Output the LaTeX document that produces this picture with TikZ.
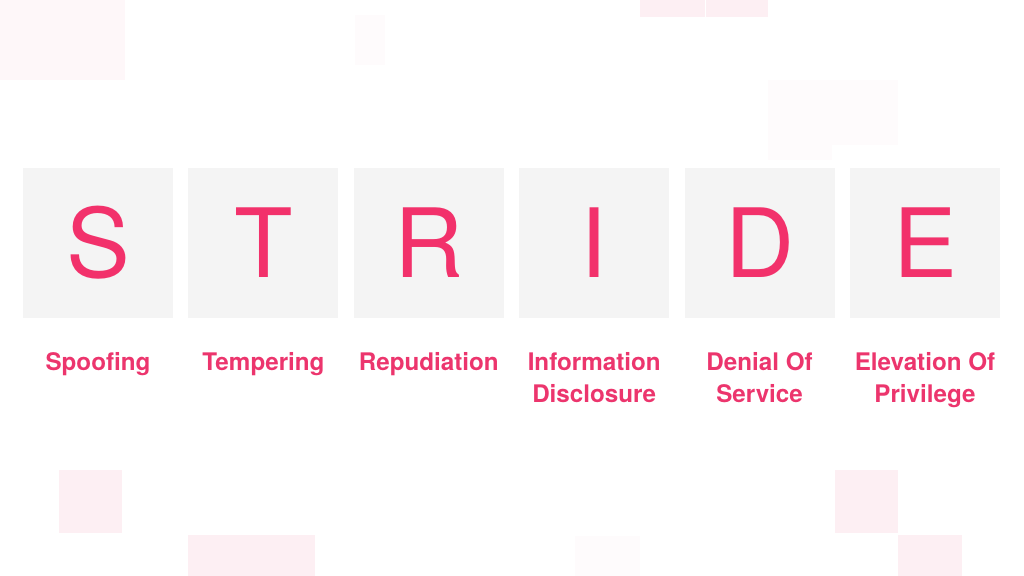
\documentclass[tikz,border=0pt]{standalone}
\usepackage{fontspec}
\setmainfont{TeX Gyre Heros}
\usepackage{xcolor}
\usetikzlibrary{positioning}
\definecolor{letterColor}{HTML}{F2316B}
\definecolor{labelColor}{HTML}{EC356D}
\definecolor{boxColor}{HTML}{F4F4F4}
\definecolor{tileColorA}{HTML}{FDEFF3}
\definecolor{tileColorB}{HTML}{FEF7F9}
\definecolor{tileColorC}{HTML}{FEFBFC}
\def\textS{Spoofing}
\def\textT{Tempering}
\def\textR{Repudiation}
\def\textI{Information\\Disclosure}
\def\textD{Denial Of\\Service}
\def\textE{Elevation Of\\Privilege}
\tikzset{
letterbox/.style={rectangle, inner sep=0pt, minimum size=150bp, fill=boxColor,
text=letterColor, font=\fontsize{96}{96}\selectfont},
labeltext/.style={inner sep=0pt, anchor=north, align=center, text=labelColor,
font=\fontsize{24.3}{32}\selectfont\bfseries}
}

\begin{document}
\begin{tikzpicture}[x=1bp,y=-1bp]
\useasboundingbox (0, 0) rectangle (1024, 576);

% background layer
\begin{scope}
\fill[tileColorB] (0, 0) rectangle (125, 80);
\fill[tileColorC] (355, 15) rectangle (385, 65);
\fill[tileColorA] (640, 0) rectangle (705, 17);
\fill[tileColorA] (706, 0) rectangle (768, 17);
\fill[tileColorC] (768, 80) rectangle (898, 145);
\fill[tileColorC] (768, 145) rectangle (832, 160);
\fill[tileColorA] (59, 470) rectangle (122, 533);
\fill[tileColorA] (188, 535) rectangle (315, 576);
\fill[tileColorC] (575, 536) rectangle (640, 576);
\fill[tileColorA] (835, 470) rectangle (898, 533);
\fill[tileColorA] (898, 535) rectangle (962, 576);
\end{scope}

% letter layer
\begin{scope}[node distance=15bp]
\node[letterbox] (sbox) at (98, 243) {S};
\node[letterbox, right=of sbox] (tbox) {T};
\node[letterbox, right=of tbox] (rbox) {R};
\node[letterbox, right=of rbox] (ibox) {I};
\node[letterbox, right=of ibox] (dbox) {D};
\node[letterbox, right=of dbox] (ebox) {E};
\end{scope}

% label layer
\begin{scope}[node distance=34bp]
\node[labeltext, below=of sbox] (slabel) {\textS};
\node[labeltext, below=of tbox] (tlabel) {\textT};
\node[labeltext, below=of rbox] (rlabel) {\textR};
\node[labeltext, below=of ibox] (ilabel) {\textI};
\node[labeltext, below=of dbox] (dlabel) {\textD};
\node[labeltext, below=of ebox] (elabel) {\textE};
\end{scope}

\end{tikzpicture}
\end{document}
